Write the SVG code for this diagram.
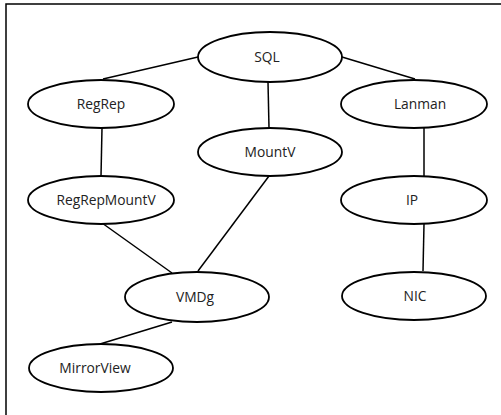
<svg xmlns="http://www.w3.org/2000/svg" width="501" height="415" viewBox="0 0 501 415">
<style>
.n ellipse{fill:#fff;stroke:#000;stroke-width:1.8}
.n text{font-family:"Open Sans","DejaVu Sans",sans-serif;font-size:13.8px;fill:#222;text-anchor:middle}
#edges line{stroke:#000;stroke-width:1.5}
</style>
<rect width="501" height="415" fill="#fff"/>
<path d="M6 415 V4 H501" fill="none" stroke="#000" stroke-width="1.5"/>
<g id="edges">
<line x1="198" y1="57" x2="103" y2="79"/>
<line x1="342" y1="57" x2="415" y2="79"/>
<line x1="268" y1="82" x2="269" y2="128"/>
<line x1="102" y1="128" x2="101" y2="176"/>
<line x1="424" y1="128" x2="424" y2="177"/>
<line x1="269" y1="176" x2="198" y2="271"/>
<line x1="102" y1="223" x2="172" y2="273"/>
<line x1="424" y1="224" x2="423" y2="271"/>
<line x1="172" y1="322" x2="100" y2="344"/>
</g>
<g id="SQL" class="n"><ellipse cx="270" cy="57" rx="72" ry="25"/><text x="267" y="62">SQL</text></g>
<g id="RegRep" class="n"><ellipse cx="101" cy="104" rx="73" ry="24"/><text x="101" y="109">RegRep</text></g>
<g id="Lanman" class="n"><ellipse cx="414" cy="104" rx="73" ry="24"/><text x="420" y="109">Lanman</text></g>
<g id="MountV" class="n"><ellipse cx="270" cy="152" rx="72" ry="24"/><text x="270" y="157">MountV</text></g>
<g id="RegRepMountV" class="n"><ellipse cx="101" cy="200" rx="73" ry="24"/><text x="106" y="205">RegRepMountV</text></g>
<g id="IP" class="n"><ellipse cx="414" cy="200" rx="73" ry="24"/><text x="412" y="205">IP</text></g>
<g id="VMDg" class="n"><ellipse cx="197" cy="297" rx="72" ry="25"/><text x="195" y="302">VMDg</text></g>
<g id="NIC" class="n"><ellipse cx="414" cy="296" rx="72" ry="24"/><text x="415" y="301">NIC</text></g>
<g id="MirrorView" class="n"><ellipse cx="101" cy="368" rx="72" ry="24"/><text x="95" y="373">MirrorView</text></g>
</svg>
